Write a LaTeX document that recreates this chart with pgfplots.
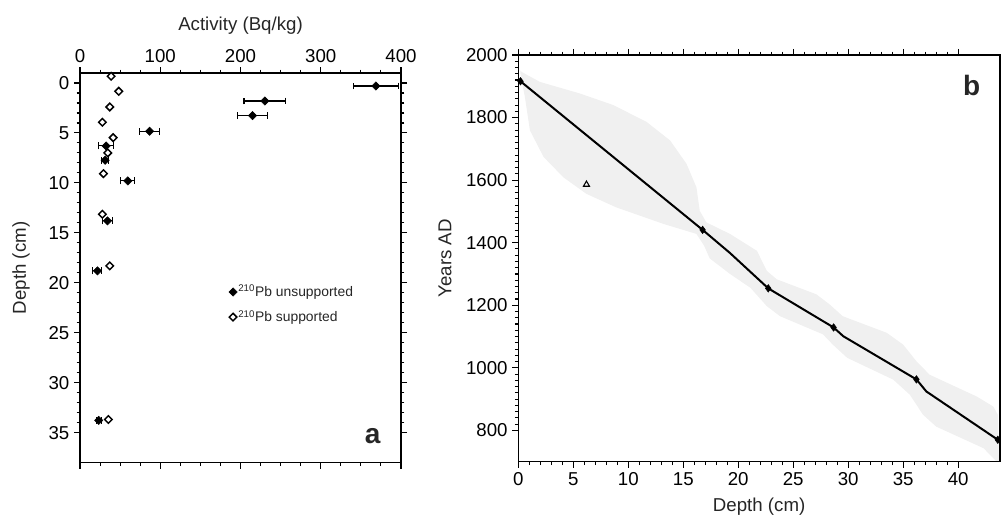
\documentclass[border=0pt]{standalone}
\usepackage{fontspec}
\setmainfont{Liberation Sans}
\usepackage{pgfplots}
\pgfplotsset{compat=1.18}
\pgfplotstableread{
x y e
368.8 0.3 28
230.4 1.8 26
215.0 3.26 18.7
86.7 4.83 12.5
32.5 6.3 9.5
31.3 7.73 4
59.6 9.8 8.75
34.2 13.8 6.7
21.7 18.8 5.6
23.3 33.76 3
}\unsup
\pgfplotstableread{
x y
38.8 -0.67
48.3 0.83
37.1 2.4
27.9 3.93
41.3 5.47
34.6 7.0
29.2 9.07
27.9 13.13
37.1 18.3
35.4 33.67
}\sup
\begin{document}
\begin{tikzpicture}
\path[use as bounding box] (0,0) rectangle (751.5pt,-390pt);
\pgfplotsset{
 every axis/.append style={
  scale only axis, anchor=north west,
  tick align=outside,
  major tick length=4.5pt, minor tick length=2.5pt,
  every tick/.style={black, line width=0.8pt},
  axis line style={line width=0.9pt},
  tick label style={font=\fontsize{14}{16}\selectfont},
  label style={font=\fontsize{14}{16}\selectfont, text=black!85},
  /pgf/number format/assume math mode=true,
  /pgf/number format/1000 sep={},
 }
}
\begin{axis}[at={(60pt,-54.75pt)}, width=240.75pt, height=292.3pt,
 xmin=0, xmax=400, ymin=-1, ymax=38, y dir=reverse,
 xtick={0,100,...,400}, minor x tick num=3,
 ytick={0,5,...,35}, minor y tick num=4,
 xtick pos=both, ytick pos=both, xticklabel pos=upper, yticklabel pos=left,
 xlabel={Activity (Bq/kg)},
 xlabel style={at={(axis description cs:0.5,1)}, anchor=base, yshift=32pt},
 ylabel={Depth (cm)},
 ylabel style={at={(axis description cs:-0.184,0.5)}, anchor=center},
 legend style={draw=none, fill=none, at={(axis description cs:0.463,0.459)}, anchor=north west,
   font=\fontsize{10.4}{12}\selectfont, row sep=7pt, inner sep=0pt, column sep=0pt,
   nodes={inner sep=0.8pt}, text=black!85},
 legend cell align=left,
 legend image code/.code={\draw[#1] plot coordinates {(0.08cm,0cm)};},
 clip=false]
\addplot[only marks, mark=square*, mark size=2.2pt, mark options={rotate=45, fill=black, draw=black},
  error bars/.cd, x dir=both, x explicit,
  error bar style={line width=0.8pt, black},
  error mark options={black, mark size=2.6pt, line width=0.8pt, rotate=90}]
  table[x=x, y=y, x error=e] {\unsup};
\addlegendentry{\textsuperscript{210}Pb unsupported}
\addplot[only marks, mark=square*, mark size=2.0pt, mark options={rotate=45, fill=white, draw=black, line width=1.1pt}]
  table[x=x, y=y] {\sup};
\addlegendentry{\textsuperscript{210}Pb supported}
\draw[line width=1.6pt] (axis cs:0,-1) -- (axis cs:400,-1);
\node[font=\bfseries\fontsize{21}{23}\selectfont, text=black!85] at (axis description cs:0.912,0.069) {a};
\end{axis}

\begin{axis}[at={(388.7pt,-41.25pt)}, width=361.3pt, height=305pt,
 xmin=0, xmax=43.8, ymin=700, ymax=2000,
 xtick={0,5,...,40}, minor x tick num=4,
 ytick={800,1000,...,2000}, minor y tick num=9,
 xtick pos=both, xticklabel pos=lower, ytick pos=left,
 xlabel={Depth (cm)}, ylabel={Years AD},
 xlabel style={at={(axis description cs:0.5,0)}, anchor=base, yshift=-37.5pt},
 ylabel style={at={(axis description cs:-0.152,0.5)}, anchor=center},
 axis on top]
\addplot[fill=gray!12, draw=none] coordinates {
(0.2,1950) (0.3,1946) (1.97,1914) (5.6,1877) (8.64,1840) (11.67,1786) (13.8,1727) (15.3,1652)
(16.2,1577) (16.5,1502) (17.1,1465) (19.25,1428) (21.7,1374) (22.6,1310) (23.5,1283) (27.1,1235)
(28.3,1203) (29.5,1165) (33.5,1112) (35,1074) (36.2,1021) (37.4,978) (41.7,908) (43.2,876)
(43.6,850) (43.7,700)
(43.5,700) (42.3,743) (38,812) (36.8,850) (35.6,914) (34.1,962) (29.9,1032) (28.6,1074)
(27.7,1107) (23.8,1165) (22.6,1197) (21.1,1256) (19.25,1300) (17.4,1350) (16.9,1390) (16.2,1428)
(13.2,1460) (8.9,1513) (6.2,1556) (4.1,1609) (2.3,1674) (1.06,1759) (0.6,1866) (0.2,1940)
} --cycle;
\addplot[line width=1.5pt, black] coordinates {
(0.2,1916) (16.76,1441) (19.25,1367) (22.73,1254) (28.67,1129) (29.55,1101) (36.2,963) (37.1,924.5) (43.6,770)
};
\addplot[only marks, mark=diamond*, mark size=2.8pt, black] coordinates {
(0.2,1916) (16.76,1441) (22.73,1254) (28.67,1129) (36.2,963) (43.6,770)
};
\addplot[only marks, mark=triangle, mark size=2.6pt, black, line width=0.8pt] coordinates {(6.2,1586)};
\node[font=\bfseries\fontsize{21}{23}\selectfont, text=black!85] at (axis description cs:0.941,0.926) {b};
\end{axis}
\end{tikzpicture}
\end{document}
